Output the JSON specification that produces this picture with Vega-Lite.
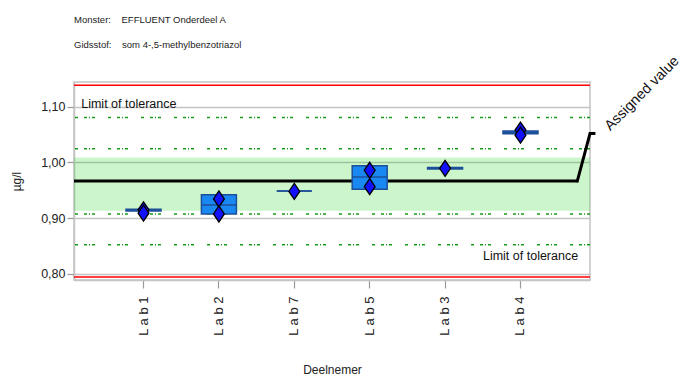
{
  "$schema": "https://vega.github.io/schema/vega-lite/v6.json",
  "width": 516,
  "height": 198,
  "autosize": "none",
  "padding": {"left": 74, "top": 82, "right": 95, "bottom": 97},
  "background": "white",
  "title": {
    "text": ["Monster:\u00a0\u00a0\u00a0 EFFLUENT Onderdeel A", "Gidsstof:\u00a0\u00a0\u00a0 som 4-,5-methylbenzotriazol"],
    "anchor": "start",
    "frame": "group",
    "font": "Liberation Sans, sans-serif",
    "fontSize": 9.5,
    "fontWeight": "normal",
    "color": "#222222",
    "lineHeight": 25,
    "baseline": "alphabetic",
    "offset": 35,
    "dy": 39
  },
  "config": {
    "view": {"stroke": "#c4c4c4", "strokeWidth": 1.5},
    "axis": {
      "labelFont": "Liberation Sans, sans-serif",
      "titleFont": "Liberation Sans, sans-serif",
      "labelColor": "#222222",
      "titleColor": "#222222",
      "titleFontWeight": "normal",
      "labelFontSize": 12.5,
      "titleFontSize": 12,
      "labelOverlap": false,
      "gridColor": "#c4c4c4",
      "gridWidth": 1.5,
      "domainColor": "#c4c4c4",
      "domainWidth": 1.5,
      "tickColor": "#9a9a9a",
      "tickWidth": 1.2
    }
  },
  "layer": [
    {
      "description": "confidence band around the assigned value",
      "data": {"values": [{"lo": 0.9136, "hi": 1.0091}]},
      "mark": {"type": "rect", "color": "#00cd00", "opacity": 0.2},
      "encoding": {
        "y": {
          "field": "lo",
          "type": "quantitative",
          "title": "µg/l",
          "scale": {"domain": [0.7892, 1.1443], "nice": false, "zero": false},
          "axis": {
            "values": [0.8, 0.85, 0.9, 0.95, 1.0, 1.05, 1.1],
            "labelExpr": "replace(format(datum.value, '.2f'), '.', ',')",
            "tickSize": 7,
            "labelPadding": 2,
            "titlePadding": 17
          }
        },
        "y2": {"field": "hi"}
      }
    },
    {
      "description": "outer limits",
      "data": {"values": [{"limit": 1.1385}, {"limit": 0.7945}]},
      "mark": {"type": "rule", "color": "#ff0000", "strokeWidth": 1.5},
      "encoding": {"y": {"field": "limit", "type": "quantitative"}}
    },
    {
      "description": "tolerance limits",
      "data": {"values": [{"limit": 1.0805}, {"limit": 1.0247}, {"limit": 0.9076}, {"limit": 0.8525}]},
      "mark": {"type": "rule", "color": "#1a9a1a", "strokeWidth": 1.5, "strokeDash": [3, 2, 1, 2, 3, 6, 3, 13]},
      "encoding": {"y": {"field": "limit", "type": "quantitative"}}
    },
    {
      "description": "assigned value line with its leader and the limit captions",
      "data": {"values": [{"assigned": 0.9667}]},
      "layer": [
        {
          "mark": {"type": "rule", "color": "black", "strokeWidth": 3},
          "encoding": {
            "x": {"datum": 0, "type": "quantitative", "scale": {"domain": [0, 1], "nice": false, "zero": false}, "axis": null},
            "x2": {"datum": 0.9754},
            "y": {"field": "assigned", "type": "quantitative"}
          }
        },
        {
          "mark": {"type": "rule", "color": "black", "strokeWidth": 3, "strokeCap": "square"},
          "encoding": {
            "x": {"datum": 0.9754, "type": "quantitative"},
            "x2": {"datum": 1.0},
            "y": {"field": "assigned", "type": "quantitative"},
            "y2": {"datum": 1.052}
          }
        },
        {
          "mark": {"type": "rule", "color": "black", "strokeWidth": 3},
          "encoding": {
            "x": {"datum": 1.0, "type": "quantitative"},
            "x2": {"datum": 1.0105},
            "y": {"datum": 1.052, "type": "quantitative"}
          }
        },
        {
          "mark": {"type": "text", "text": "Assigned value", "angle": 315, "align": "left", "baseline": "middle", "dx": 12, "dy": 5, "font": "Liberation Sans, sans-serif", "fontSize": 14.5, "color": "#111111"},
          "encoding": {
            "x": {"datum": 1.0105, "type": "quantitative"},
            "y": {"datum": 1.052, "type": "quantitative"}
          }
        },
        {
          "mark": {"type": "text", "text": "Limit of tolerance", "align": "left", "baseline": "middle", "font": "Liberation Sans, sans-serif", "fontSize": 12.5, "color": "#111111"},
          "encoding": {
            "x": {"datum": 0.014, "type": "quantitative"},
            "y": {"datum": 1.105, "type": "quantitative"}
          }
        },
        {
          "mark": {"type": "text", "text": "Limit of tolerance", "align": "right", "baseline": "middle", "font": "Liberation Sans, sans-serif", "fontSize": 12.5, "color": "#111111"},
          "encoding": {
            "x": {"datum": 0.977, "type": "quantitative"},
            "y": {"datum": 0.8323, "type": "quantitative"}
          }
        }
      ]
    },
    {
      "description": "per-laboratory boxes, medians and individual results",
      "layer": [
        {
          "data": {"values": [
            {"lab": "Lab 1", "low": 0.9131, "high": 0.9163},
            {"lab": "Lab 2", "low": 0.9076, "high": 0.9422},
            {"lab": "Lab 7", "low": 0.949, "high": 0.949},
            {"lab": "Lab 5", "low": 0.9519, "high": 0.9942},
            {"lab": "Lab 3", "low": 0.9882, "high": 0.9909},
            {"lab": "Lab 4", "low": 1.0515, "high": 1.0565}
          ]},
          "mark": {"type": "bar", "fill": "#1a88f2", "stroke": "#1d4f98", "strokeWidth": 1.5},
          "encoding": {
            "x": {
              "field": "lab",
              "type": "nominal",
              "title": "Deelnemer",
              "sort": null,
              "scale": {"type": "band", "domain": ["Lab 1", "Lab 2", "Lab 7", "Lab 5", "Lab 3", "Lab 4"], "paddingInner": 0.536, "paddingOuter": 0.69},
              "axis": {
                "orient": "bottom",
                "labelAngle": 270,
                "labelAlign": "right",
                "labelBaseline": "middle",
                "labelPadding": 8,
                "labelFontSize": 13,
                "tickSize": 8,
                "labelExpr": "replace(join(split(datum.label, ''), ' '), '   ', ' ')",
                "titlePadding": 29
              }
            },
            "y": {"field": "low", "type": "quantitative"},
            "y2": {"field": "high"}
          }
        },
        {
          "data": {"values": [
            {"lab": "Lab 1", "median": 0.9147},
            {"lab": "Lab 2", "median": 0.9237},
            {"lab": "Lab 7", "median": 0.949},
            {"lab": "Lab 5", "median": 0.974},
            {"lab": "Lab 3", "median": 0.9895},
            {"lab": "Lab 4", "median": 1.054}
          ]},
          "mark": {"type": "tick", "color": "#1d4f98", "size": 35, "thickness": 1.5, "opacity": 1},
          "encoding": {
            "x": {"field": "lab", "type": "nominal"},
            "y": {"field": "median", "type": "quantitative"}
          }
        },
        {
          "data": {"values": [
            {"lab": "Lab 1", "result": 0.915},
            {"lab": "Lab 1", "result": 0.909},
            {"lab": "Lab 2", "result": 0.9345},
            {"lab": "Lab 2", "result": 0.9076},
            {"lab": "Lab 7", "result": 0.948},
            {"lab": "Lab 5", "result": 0.986},
            {"lab": "Lab 5", "result": 0.9566},
            {"lab": "Lab 3", "result": 0.9895},
            {"lab": "Lab 4", "result": 1.058},
            {"lab": "Lab 4", "result": 1.049}
          ]},
          "mark": {"type": "point", "shape": "M0,-1L0.68,0L0,1L-0.68,0Z", "size": 256, "filled": true, "fill": "#1212ff", "stroke": "black", "strokeWidth": 1.3, "opacity": 1},
          "encoding": {
            "x": {"field": "lab", "type": "nominal"},
            "y": {"field": "result", "type": "quantitative"}
          }
        }
      ]
    }
  ],
  "resolve": {"scale": {"x": "independent"}}
}
